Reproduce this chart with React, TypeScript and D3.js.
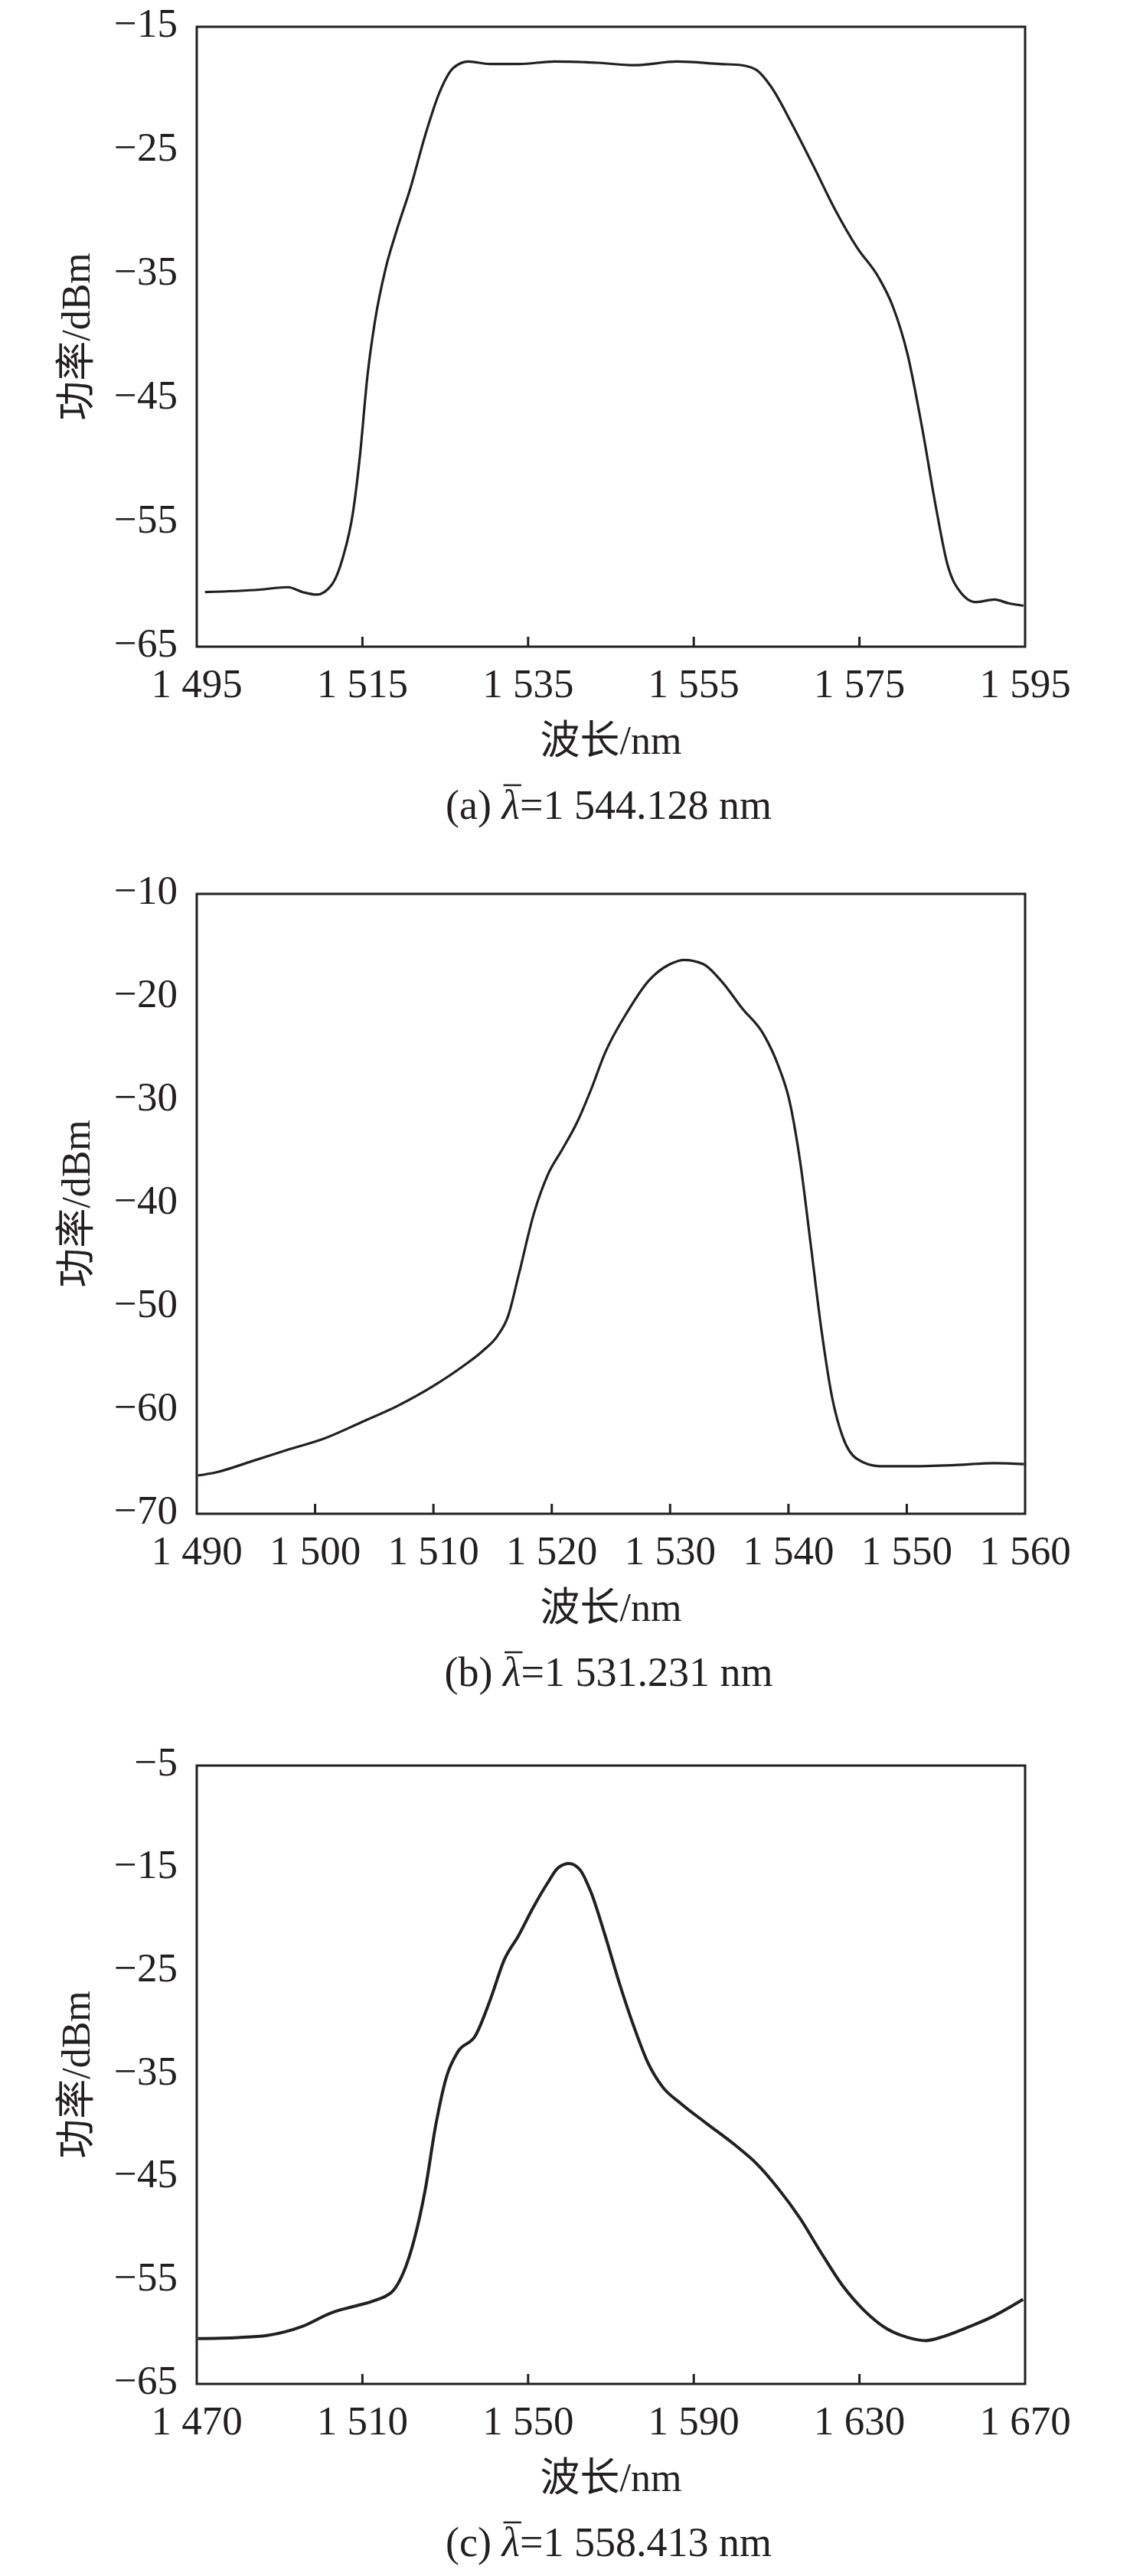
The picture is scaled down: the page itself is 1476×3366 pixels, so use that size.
import React, { useEffect, useRef } from "react";
import * as d3 from "d3";

// panel (a)
const waveA = [1496, 1502.6, 1506, 1507.8, 1509.5, 1511.3, 1512.6, 1513.9, 1514.7, 1515.6, 1516.5, 1517.8, 1519.1, 1520.8, 1522.6, 1524.3, 1526, 1527.8, 1530.4, 1533.9, 1538.2, 1543.4, 1547.8, 1553, 1558.2, 1560.8, 1562.6, 1564.3, 1566.9, 1569.5, 1572.1, 1574.7, 1577.3, 1579, 1580.8, 1582.5, 1584.3, 1585.6, 1587.3, 1589, 1591.3, 1593, 1594.8];
const powerA = [-60.6, -60.4, -60.2, -60.6, -60.8, -60.0, -57.9, -54.0, -49.6, -43.2, -38.8, -34.5, -31.5, -28.0, -23.7, -20.3, -18.3, -17.8, -18.0, -18.0, -17.8, -17.9, -18.1, -17.8, -18.0, -18.1, -18.5, -19.8, -22.9, -26.3, -29.8, -32.8, -35.2, -37.5, -41.4, -47.1, -54.0, -58.3, -60.7, -61.4, -61.2, -61.5, -61.7];
const ticksXA = [1495, 1515, 1535, 1555, 1575, 1595];
const ticksYA = [-15, -25, -35, -45, -55, -65];

// panel (b)
const waveB = [1490.1, 1491.6, 1494.7, 1497.7, 1500.8, 1503.8, 1506.9, 1509.9, 1512.4, 1514.2, 1515.4, 1516.3, 1517.2, 1518.5, 1519.7, 1520.9, 1522.1, 1523.3, 1524.5, 1526.4, 1528.2, 1530, 1531.2, 1532.8, 1534.3, 1536.1, 1537.9, 1539.1, 1540.1, 1541, 1541.9, 1542.8, 1543.7, 1544.6, 1545.8, 1547.7, 1550.1, 1553.8, 1557.4, 1559.9];
const powerB = [-66.3, -66.0, -64.9, -63.8, -62.7, -61.2, -59.6, -57.7, -55.8, -54.2, -52.8, -50.9, -46.9, -40.9, -37.1, -34.7, -32.2, -29.0, -25.4, -21.4, -18.4, -16.8, -16.4, -16.8, -18.4, -21.1, -23.6, -26.5, -30.1, -36.0, -44.1, -52.3, -58.8, -62.6, -64.7, -65.4, -65.4, -65.3, -65.1, -65.2];
const ticksXB = [1490, 1500, 1510, 1520, 1530, 1540, 1550, 1560];
const ticksYB = [-10, -20, -30, -40, -50, -60, -70];

// panel (c)
const waveC = [1470.3, 1479.9, 1486.9, 1495.6, 1502.5, 1507.7, 1513, 1517.3, 1519.9, 1522.5, 1525.1, 1527.7, 1530.3, 1533, 1537.3, 1540.8, 1544.3, 1547.7, 1551.2, 1554.7, 1557.3, 1559.9, 1562.5, 1565.1, 1568.6, 1572.1, 1575.6, 1579, 1582.5, 1586.9, 1593, 1599.9, 1605.1, 1610.3, 1615.6, 1620.8, 1626, 1631.2, 1636.4, 1641.7, 1646, 1650.3, 1655.6, 1662.5, 1669.5];
const powerC = [-60.6, -60.5, -60.3, -59.4, -58.1, -57.5, -56.9, -56.0, -54.2, -51.0, -46.3, -39.9, -35.2, -32.8, -31.2, -27.8, -23.8, -21.5, -18.8, -16.4, -14.9, -14.5, -15.1, -17.2, -21.5, -26.2, -30.4, -33.9, -36.2, -37.8, -39.7, -41.8, -43.6, -46.0, -48.9, -52.3, -55.5, -57.9, -59.6, -60.5, -60.8, -60.4, -59.6, -58.4, -56.8];
const ticksXC = [1470, 1510, 1550, 1590, 1630, 1670];
const ticksYC = [-5, -15, -25, -35, -45, -55, -65];

const captions = [
  { tag: "(a) ", value: "=1 544.128 nm" },
  { tag: "(b) ", value: "=1 531.231 nm" },
  { tag: "(c) ", value: "=1 558.413 nm" },
];

const panels = [
  { wave: waveA, power: powerA, tx: ticksXA, ty: ticksYA, top: 35, h: 810, sw: 3.2 },
  { wave: waveB, power: powerB, tx: ticksXB, ty: ticksYB, top: 1168, h: 810, sw: 3.2 },
  { wave: waveC, power: powerC, tx: ticksXC, ty: ticksYC, top: 2307, h: 808, sw: 4 },
];

const INK = "#231f20";
const SERIF = "'Liberation Serif', 'Times New Roman', serif";
const MIXED = "'Liberation Serif', 'Noto Sans CJK SC', serif";
const fmt = (v: number) => {
  if (v < 0) return "\u2212" + Math.abs(v);
  const s = String(v);
  return s.length === 4 ? s[0] + " " + s.slice(1) : s;
};

const App = () => {
  const ref = useRef<SVGSVGElement | null>(null);

  useEffect(() => {
    const svg = d3.select(ref.current);
    svg.selectAll("*").remove();
    const left = 257;
    const right = 1339;

    panels.forEach((p, i) => {
      const bottom = p.top + p.h;
      const x = d3.scaleLinear().domain([p.tx[0], p.tx[p.tx.length - 1]]).range([left, right]);
      const y = d3.scaleLinear().domain([p.ty[p.ty.length - 1], p.ty[0]]).range([bottom, p.top]);
      const g = svg.append("g");

      // curve
      const pts = p.wave.map((w, k) => [w, p.power[k]] as [number, number]);
      const line = d3.line<[number, number]>()
        .x((d) => x(d[0]))
        .y((d) => y(d[1]))
        .curve(d3.curveMonotoneX);
      g.append("path")
        .attr("d", line(pts))
        .attr("fill", "none")
        .attr("stroke", INK)
        .attr("stroke-width", p.sw)
        .attr("stroke-linejoin", "round");

      // frame
      g.append("rect")
        .attr("x", left)
        .attr("y", p.top)
        .attr("width", right - left)
        .attr("height", p.h)
        .attr("fill", "none")
        .attr("stroke", INK)
        .attr("stroke-width", 3);

      // inward x ticks
      g.selectAll("line.tick")
        .data(p.tx.slice(1, -1))
        .enter()
        .append("line")
        .attr("x1", (d) => x(d))
        .attr("x2", (d) => x(d))
        .attr("y1", bottom)
        .attr("y2", bottom - 13)
        .attr("stroke", INK)
        .attr("stroke-width", 3);

      g.selectAll("text.xt")
        .data(p.tx)
        .enter()
        .append("text")
        .attr("x", (d) => x(d))
        .attr("y", bottom + 66)
        .attr("text-anchor", "middle")
        .attr("font-family", SERIF)
        .attr("font-size", 53)
        .attr("fill", INK)
        .text((d) => fmt(d));

      g.selectAll("text.yt")
        .data(p.ty)
        .enter()
        .append("text")
        .attr("x", 232)
        .attr("y", (d) => y(d))
        .attr("dy", "0.24em")
        .attr("text-anchor", "end")
        .attr("font-family", SERIF)
        .attr("font-size", 53)
        .attr("fill", INK)
        .text((d) => fmt(d));

      // axis titles
      g.append("text")
        .attr("transform", `translate(117,${p.top + p.h / 2}) rotate(-90)`)
        .attr("text-anchor", "middle")
        .attr("font-family", MIXED)
        .attr("font-size", 52)
        .attr("fill", INK)
        .text("功率/dBm");

      g.append("text")
        .attr("x", (left + right) / 2)
        .attr("y", bottom + 140)
        .attr("text-anchor", "middle")
        .attr("font-family", MIXED)
        .attr("font-size", 52)
        .attr("fill", INK)
        .text("波长/nm");

      // caption with barred lambda
      const cap = captions[i];
      const cy = bottom + 225;
      const ct = g.append("text")
        .attr("x", 795)
        .attr("y", cy)
        .attr("text-anchor", "middle")
        .attr("font-family", SERIF)
        .attr("font-size", 54)
        .attr("fill", INK);
      ct.append("tspan").text(cap.tag);
      ct.append("tspan").attr("font-style", "italic").text("λ");
      ct.append("tspan").text(cap.value);
      const node = ct.node() as SVGTextElement;
      const li = cap.tag.length;
      try {
        const s = node.getStartPositionOfChar(li);
        const e = node.getEndPositionOfChar(li);
        g.append("line")
          .attr("x1", s.x + 2)
          .attr("x2", e.x + 2)
          .attr("y1", cy - 44)
          .attr("y2", cy - 44)
          .attr("stroke", INK)
          .attr("stroke-width", 2.5);
      } catch (err) {
        // ignore
      }
    });
  }, []);

  return (
    <svg
      ref={ref}
      width={1476}
      height={3366}
      style={{ position: "absolute", left: 0, top: 0, background: "#fff" }}
    />
  );
};

export default App;
